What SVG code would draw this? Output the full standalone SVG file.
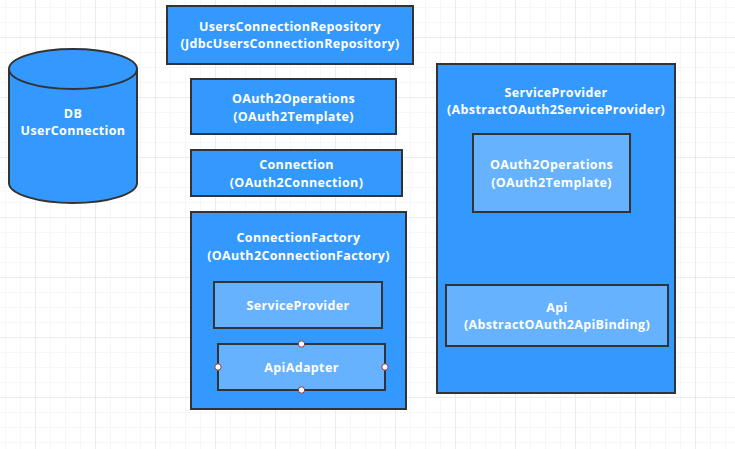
<svg xmlns="http://www.w3.org/2000/svg" width="735" height="449" viewBox="0 0 735 449">
<defs>
<pattern id="minor" x="5" y="7" width="15" height="15" patternUnits="userSpaceOnUse">
<path d="M0 0H15M0 0V15" fill="none" stroke="#efefef" stroke-width="1"/>
</pattern>
<pattern id="major" x="35" y="37" width="60" height="60" patternUnits="userSpaceOnUse">
<path d="M0 0H60M0 0V60" fill="none" stroke="#e2e2e2" stroke-width="1"/>
</pattern>
</defs>
<style>
.box{fill:#3399ff;stroke:#333;stroke-width:2}
.inner{fill:#66b2ff;stroke:#333;stroke-width:2}
text{font-family:"Open Sans","Noto Sans","DejaVu Sans",sans-serif;font-weight:bold;font-size:12.5px;letter-spacing:0.35px;fill:#fff;text-anchor:middle;dominant-baseline:central}
.h{fill:#fff;stroke:#8b3a3a;stroke-width:1}
</style>
<rect width="735" height="449" fill="#fff"/>
<rect width="735" height="449" fill="url(#minor)"/>
<rect width="735" height="449" fill="url(#major)"/>

<g id="db">
<path class="box" d="M9 69V183A64 20 0 0 0 137 183V69A64 20 0 0 0 9 69Z"/>
<path d="M9 69A64 20 0 0 0 137 69" fill="none" stroke="#333" stroke-width="2"/>
<text x="73" y="113.3">DB</text>
<text x="73" y="130.7">UserConnection</text>
</g>

<g id="users-connection-repository">
<rect class="box" x="167" y="6" width="246" height="58"/>
<text x="290" y="26.3">UsersConnectionRepository</text>
<text x="290" y="43.7">(JdbcUsersConnectionRepository)</text>
</g>

<g id="oauth2-operations">
<rect class="box" x="191" y="79" width="205" height="55"/>
<text x="293.5" y="98.8">OAuth2Operations</text>
<text x="293.5" y="116.2">(OAuth2Template)</text>
</g>

<g id="connection">
<rect class="box" x="191" y="150" width="211" height="46"/>
<text x="296.5" y="164.8">Connection</text>
<text x="296.5" y="182.2">(OAuth2Connection)</text>
</g>

<g id="connection-factory">
<rect class="box" x="191" y="212" width="215" height="197"/>
<text x="298.5" y="237.8">ConnectionFactory</text>
<text x="298.5" y="255.2">(OAuth2ConnectionFactory)</text>
</g>

<g id="cf-service-provider">
<rect class="inner" x="214" y="282" width="168" height="46"/>
<text x="298" y="305">ServiceProvider</text>
</g>

<g id="api-adapter">
<rect class="inner" x="218" y="344" width="167" height="46"/>
<text x="301.5" y="367.5">ApiAdapter</text>
<circle class="h" cx="301.5" cy="344" r="3.2"/>
<circle class="h" cx="218" cy="367" r="3.2"/>
<circle class="h" cx="385" cy="367" r="3.2"/>
<circle class="h" cx="301.5" cy="390" r="3.2"/>
</g>

<g id="service-provider">
<rect class="box" x="437" y="64" width="238" height="329"/>
<text x="556" y="92.3">ServiceProvider</text>
<text x="556" y="109.7">(AbstractOAuth2ServiceProvider)</text>
</g>

<g id="sp-oauth2-operations">
<rect class="inner" x="473" y="134" width="157" height="78"/>
<text x="551.5" y="164.6">OAuth2Operations</text>
<text x="551.5" y="182">(OAuth2Template)</text>
</g>

<g id="api">
<rect class="inner" x="446" y="285" width="222" height="61"/>
<text x="557" y="307.3">Api</text>
<text x="557" y="324.7">(AbstractOAuth2ApiBinding)</text>
</g>

<g id="connectors"></g>
</svg>
